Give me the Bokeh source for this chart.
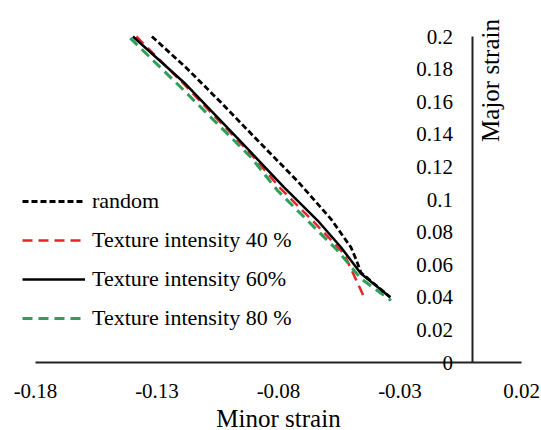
from math import pi
from bokeh.plotting import figure
from bokeh.models import (LinearAxis, FixedTicker, Range1d, Legend, LegendItem, Label)
from bokeh.embed import file_html
from bokeh.resources import INLINE

# ---- data ----
random_x = [-0.1321, -0.1181, -0.1030, -0.0879, -0.0720, -0.0584, -0.0502, -0.0480, -0.0461, -0.0340]
random_y = [0.200, 0.1810, 0.1585, 0.1352, 0.1110, 0.0880, 0.0707, 0.0630, 0.0552, 0.0400]

tex40_x = [-0.1385, -0.1189, -0.1050, -0.0914, -0.0790, -0.0650, -0.0531, -0.0449]
tex40_y = [0.200, 0.1708, 0.1490, 0.1280, 0.1065, 0.0855, 0.0669, 0.0405]

tex60_x = [-0.1399, -0.1189, -0.1050, -0.0914, -0.0777, -0.0639, -0.0543, -0.0461, -0.0340]
tex60_y = [0.200, 0.1718, 0.1502, 0.1290, 0.1075, 0.0871, 0.0707, 0.0546, 0.0400]

tex80_x = [-0.1410, -0.1189, -0.1050, -0.0914, -0.0804, -0.0680, -0.0557, -0.0461, -0.0337]
tex80_y = [0.1990, 0.1669, 0.1462, 0.1260, 0.1055, 0.0870, 0.0687, 0.0515, 0.0380]

x_ticks = [-0.18, -0.13, -0.08, -0.03, 0.02]
x_tick_labels = ["-0.18", "-0.13", "-0.08", "-0.03", "0.02"]
y_ticks = [0, 0.02, 0.04, 0.06, 0.08, 0.1, 0.12, 0.14, 0.16, 0.18, 0.2]
y_tick_labels = ["0", "0.02", "0.04", "0.06", "0.08", "0.1", "0.12", "0.14", "0.16", "0.18", "0.2"]

series_names = ["random", "Texture intensity 40 %", "Texture intensity 60%", "Texture intensity 80 %"]

FONT = "Liberation Serif"

W, H = 541, 430
# frame fills the canvas; axes are placed inside it at x=0 / y=0
x_lo, x_hi = -0.18, 0.02
y_lo, y_hi = 0.0, 0.2
px_x0, px_x1 = 35, 521      # pixel columns of x_lo / x_hi
px_y1, px_y0 = 36, 362      # pixel rows of y_hi / y_lo
sx = (x_hi - x_lo) / (px_x1 - px_x0)
sy = (y_hi - y_lo) / (px_y0 - px_y1)
xr = Range1d(x_lo - px_x0 * sx, x_hi + (W - px_x1) * sx)
yr = Range1d(y_lo - (H - px_y0) * sy, y_hi + px_y1 * sy)

p = figure(width=W, height=H, output_backend="svg", toolbar_location=None,
           x_axis_type=None, y_axis_type=None, x_range=xr, y_range=yr,
           min_border=0, min_border_left=0, min_border_right=0,
           min_border_top=0, min_border_bottom=0)
p.outline_line_color = None
p.xgrid.visible = False
p.ygrid.visible = False
p.background_fill_color = "white"
p.border_fill_color = "white"

xaxis = LinearAxis(ticker=FixedTicker(ticks=x_ticks), fixed_location=0, bounds=(x_lo, x_hi),
                   major_label_overrides={t: l for t, l in zip(x_ticks, x_tick_labels)},
                   axis_label="Minor strain")
xaxis.major_tick_in = 0
xaxis.major_tick_out = 0
xaxis.minor_tick_in = 0
xaxis.minor_tick_out = 0
xaxis.axis_line_width = 2
xaxis.axis_line_color = "#222222"
xaxis.major_label_standoff = 21
xaxis.major_label_text_font = FONT
xaxis.major_label_text_font_size = "21px"
xaxis.major_label_text_color = "black"
xaxis.axis_label_text_font = FONT
xaxis.axis_label_text_font_size = "25px"
xaxis.axis_label_text_font_style = "normal"
xaxis.axis_label_text_color = "black"
xaxis.axis_label_standoff = 4
p.add_layout(xaxis, "below")

yaxis = LinearAxis(ticker=FixedTicker(ticks=y_ticks), fixed_location=0, bounds=(y_lo, y_hi),
                   major_label_overrides={t: l for t, l in zip(y_ticks, y_tick_labels)})
yaxis.major_tick_in = 0
yaxis.major_tick_out = 0
yaxis.minor_tick_in = 0
yaxis.minor_tick_out = 0
yaxis.axis_line_width = 2
yaxis.axis_line_color = "#222222"
yaxis.major_label_standoff = 20
yaxis.major_label_text_font = FONT
yaxis.major_label_text_font_size = "21px"
yaxis.major_label_text_color = "black"
p.add_layout(yaxis, "left")

r40 = p.line(tex40_x, tex40_y, line_color="#e3262a", line_width=2.5, line_dash="10 6")
r60 = p.line(tex60_x, tex60_y, line_color="black", line_width=2.5)
r80 = p.line(tex80_x, tex80_y, line_color="#2f9e5a", line_width=3, line_dash="10 6")
rrand = p.line(random_x, random_y, line_color="black", line_width=2.8, line_dash="6 3")

legend = Legend(items=[LegendItem(label=series_names[0], renderers=[rrand]),
                       LegendItem(label=series_names[1], renderers=[r40]),
                       LegendItem(label=series_names[2], renderers=[r60]),
                       LegendItem(label=series_names[3], renderers=[r80])],
                location=(22, 94))
legend.border_line_color = None
legend.background_fill_alpha = 0
legend.padding = 0
legend.margin = 0
legend.spacing = 3
legend.glyph_width = 63
legend.glyph_height = 36
legend.label_height = 36
legend.label_standoff = 7
legend.label_text_font = FONT
legend.label_text_font_size = "22px"
legend.label_text_color = "black"
p.add_layout(legend, "center")

ylab = Label(x=0.0074, y=0.173, text="Major strain", angle=pi / 2,
             text_align="center", text_baseline="middle",
             text_font=FONT, text_font_size="25px", text_color="black")
p.add_layout(ylab)

open("out.html", "w").write(file_html(p, INLINE))
